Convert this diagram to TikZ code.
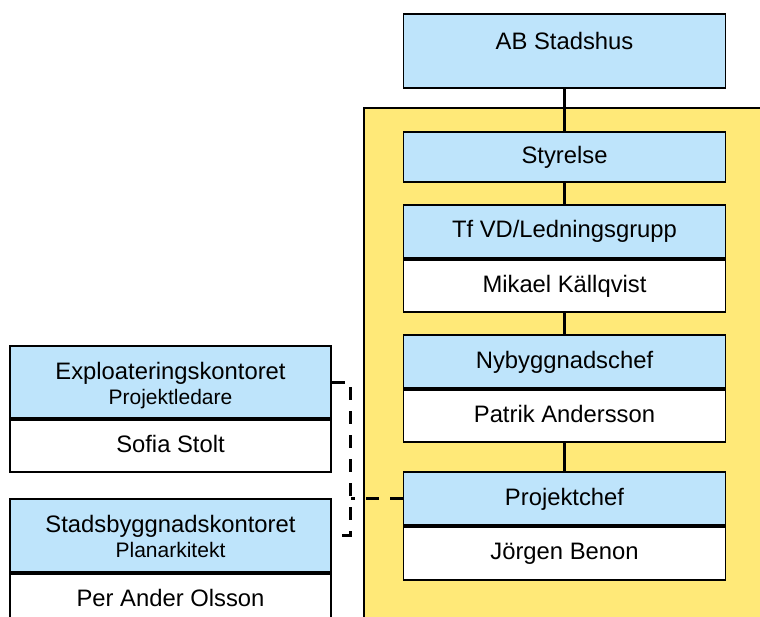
\documentclass[tikz,border=0pt]{standalone}
\usepackage{fontspec}
\setmainfont{Liberation Sans}
\definecolor{boxblue}{RGB}{190,228,251}
\definecolor{orgyellow}{RGB}{255,233,120}

\begin{document}
\begin{tikzpicture}[x=1pt, y=-1pt,
		hdr/.style={draw, line width=1.8pt, fill=boxblue, minimum width=322pt, inner sep=0pt,
			align=center, text height=17pt, text depth=4pt, font=\fontsize{23.8}{25}\selectfont},
		hdrtwo/.style={hdr, minimum width=321pt, text height=44pt, text depth=0pt},
		namebox/.style={hdr, fill=white},
		conn/.style={line width=3pt},
		dashconn/.style={line width=3pt, dash pattern=on 13pt off 11pt}]
		\useasboundingbox (0,0) rectangle (760,617);
		\clip (0,0) rectangle (760,617);
		\draw[line width=1.8pt, fill=orgyellow] (364,108) rectangle (800,680);
		% company chain
		\node[hdr, minimum height=74pt, text depth=19pt] (stadshus) at (564.5,51) {AB Stadshus};
		\node[hdr, minimum height=50pt] (styrelse) at (564.5,157) {Styrelse};
		\node[hdr, minimum height=53pt] (tfvd) at (564.5,231.5) {Tf VD/Ledningsgrupp};
		\node[namebox, minimum height=52pt, anchor=north] (mikael) at (tfvd.south) {Mikael Källqvist};
		\node[hdr, minimum height=53pt] (nyb) at (564.5,361.5) {Nybyggnadschef};
		\node[namebox, minimum height=52pt, anchor=north] (patrik) at (nyb.south) {Patrik Andersson};
		\node[hdr, minimum height=53pt] (projchef) at (564.5,498.5) {Projektchef};
		\node[namebox, minimum height=53pt, anchor=north] (jorgen) at (projchef.south) {Jörgen Benon};
		% city offices
		\node[hdrtwo, minimum height=72pt] (exploat) at (170.5,382) {Exploateringskontoret\\{\fontsize{21}{25}\selectfont Projektledare}};
		\node[namebox, minimum width=321pt, minimum height=52pt, anchor=north] (sofia) at (exploat.south) {Sofia Stolt};
		\node[hdrtwo, minimum height=73pt] (stadsbygg) at (170.5,535.5) {Stadsbyggnadskontoret\\{\fontsize{21}{25}\selectfont Planarkitekt}};
		\node[namebox, minimum width=321pt, minimum height=52pt, anchor=north] (per) at (stadsbygg.south) {Per Ander Olsson};
		\draw[conn] (stadshus.south) -- (styrelse.north);
		\draw[conn] (styrelse.south) -- (tfvd.north);
		\draw[conn] (mikael.south) -- (nyb.north);
		\draw[conn] (patrik.south) -- (projchef.north);
		\draw[dashconn] (exploat.east) -- ++(19,0) |- (stadsbygg.east);
		\coordinate (tee) at (351,498.5);
		\draw[dashconn] (projchef.west) -- (tee);
	\end{tikzpicture}
\end{document}
